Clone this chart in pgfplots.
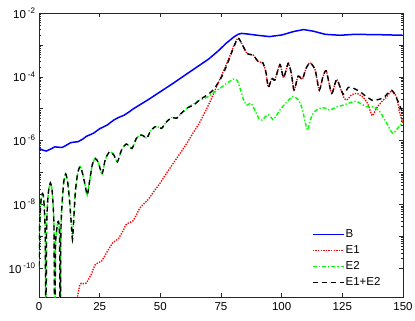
\documentclass[border=0pt]{standalone}
\usepackage{fontspec}
\setmainfont{Liberation Sans}
\usepackage{pgfplots}
\pgfplotsset{compat=1.18}
\newcommand{\tp}[1]{10\,\raisebox{0.8ex}{\fontsize{8}{9}\selectfont -#1}}
\begin{document}
\fontsize{11.5}{13}\selectfont
\begin{tikzpicture}
\begin{axis}[name=ax,
  scale only axis, width=364pt, height=284pt,
  xmin=0, xmax=150, ymode=log, ymin=1.23e-11, ymax=1e-2,
  xtick={0,25,50,75,100,125,150},
  ytick={1e-10,1e-9,1e-8,1e-7,1e-6,1e-5,1e-4,1e-3,1e-2},
  yticklabels={\tp{10},{},\tp{8},{},\tp{6},{},\tp{4},{},\tp{2}},
  /pgf/number format/assume math mode=true,
  tick align=inside, major tick length=4.5pt, minor tick length=2.5pt,
  axis line style={black!85, line width=0.5pt},
  every tick/.style={black!85, line width=0.4pt},
  tick label style={font=\fontsize{11.5}{13}\selectfont},
  xticklabel style={yshift=-1.5pt},
  clip=true,
  legend cell align=left,
  legend style={draw=none, fill=none, at={(0.747,0.025)}, anchor=south west, font=\fontsize{11.5}{13}\selectfont, row sep=3.5pt, inner sep=1pt,
    nodes={inner sep=1pt, text height=8.5pt, text depth=2pt}},
  legend image code/.code={\draw[#1] (0pt,0pt) -- (31pt,0pt);},
]
\addplot[blue, line width=1.5pt] coordinates {
(0,5.62e-7)(1.5,5.01e-7)(3,4.68e-7)(4.8,5.37e-7)(6.5,6.31e-7)(8,6.17e-7)(9.5,6.03e-7)(11,6.92e-7)(13,8.51e-7)(14.5,8.91e-7)(16,9.12e-7)(18,1.10e-6)(19.5,1.35e-6)(21,1.51e-6)(22.5,1.70e-6)(25,2.34e-6)(28,3.02e-6)(31,4.47e-6)(33,5.37e-6)(35,6.17e-6)(37,7.76e-6)(39,1.00e-5)(42,1.38e-5)(45,1.91e-5)(50,3.39e-5)(55,6.03e-5)(60,1.10e-4)(65,2.00e-4)(70,3.63e-4)(74,6.61e-4)(77,1.10e-3)(80,1.70e-3)(82,2.14e-3)(83.5,2.29e-3)(86,2.19e-3)(90,2.00e-3)(95,1.82e-3)(100,2.04e-3)(105,2.63e-3)(109,3.02e-3)(113,2.69e-3)(118,2.14e-3)(124,2.00e-3)(130,2.14e-3)(140,2.09e-3)(150,2.00e-3)
};
\addlegendentry{B}
\addplot[red, line width=1.4pt, dash pattern=on 1.3pt off 1.3pt, smooth, tension=0.4] coordinates {
(15,5.012e-12)(16.8,2.951e-11)(18,3.236e-11)(19.5,3.388e-11)(21.5,6.310e-11)(23.3,1.318e-10)(25.7,1.622e-10)(28,3.162e-10)(30.5,6.310e-10)(32.6,8.128e-10)(34.5,1.413e-9)(36.1,2.399e-9)(38.8,3.020e-9)(41.6,7.586e-9)(45,1.413e-8)(47.5,2.630e-8)(49.9,4.571e-8)(52.6,9.550e-8)(55.3,1.905e-7)(58,3.802e-7)(60.9,8.128e-7)(63.6,1.778e-6)(66.3,3.802e-6)(70.5,1.660e-5)(73.9,6.607e-5)(76.6,1.905e-4)(78.4,3.981e-4)(80.3,9.550e-4)(82,1.622e-3)(83.5,1.122e-3)(85.6,5.495e-4)(87,5.012e-4)(88.3,4.786e-4)(90.4,2.951e-4)(92.2,2.754e-4)(93.5,1.413e-4)(94.5,4.677e-5)(95.9,8.913e-5)(97.2,7.943e-5)(99.3,2.399e-4)(100.8,9.333e-5)(102.7,2.630e-4)(104,1.259e-4)(105.1,3.802e-5)(106.8,1.047e-4)(108.5,8.318e-5)(110,1.778e-4)(111.7,2.754e-4)(113.8,1.622e-4)(115.5,3.802e-5)(117,1e-4)(118.4,1.514e-4)(120.6,3.020e-5)(122.7,8.128e-5)(125.4,2.399e-5)(126.8,1.862e-5)(128.8,2.692e-5)(130.9,3.020e-5)(133.6,2.239e-5)(135.5,1.413e-5)(137.3,6.026e-6)(139.1,1.047e-5)(141.5,1.738e-5)(143.3,2.344e-5)(145.5,3.715e-5)(147.4,2.188e-5)(148.7,7.079e-6)(150,3.548e-6)
};
\addlegendentry{E1}
\addplot[green, line width=1.4pt, dash pattern=on 4pt off 2pt on 1.3pt off 2pt, smooth, tension=0.4] coordinates {
(0,1.096e-10)(0.3,2.512e-9)(0.7,1e-8)(1.1,1.905e-8)(1.5,2.188e-8)(1.9,1.585e-8)(2.3,5.012e-9)(2.6,6.310e-10)(2.85,1e-13)(3.1,1e-9)(3.5,1e-8)(4.0,2.818e-8)(4.7,4.677e-8)(5.3,3.162e-8)(5.8,1e-8)(6.2,1.259e-9)(6.5,1e-13)(6.8,3.981e-10)(7.3,1.585e-9)(7.8,2.818e-9)(8.2,2.512e-9)(8.5,6.310e-10)(8.75,1e-13)(9.0,1e-9)(9.5,1e-8)(10.2,5.012e-8)(11,8.913e-8)(11.8,5.012e-8)(12.6,1.259e-8)(13.3,2.512e-9)(13.8,7.943e-10)(14.3,3.162e-9)(15,2.512e-8)(16,1e-7)(17,1.514e-7)(18,8.913e-8)(19,3.981e-8)(19.9,1.950e-8)(20.8,5.012e-8)(22,1.778e-7)(23.2,2.754e-7)(24.5,1.995e-7)(26,8.913e-8)(27.3,2.512e-7)(29.1,4.467e-7)(30.8,3.548e-7)(32.3,2.138e-7)(34,5.012e-7)(36,7.762e-7)(38.3,5.623e-7)(40,1.122e-6)(41.5,1.479e-6)(43,1.413e-6)(44.4,1.175e-6)(46,1.995e-6)(47.8,2.692e-6)(49.2,2.630e-6)(50.5,2.399e-6)(52.5,3.802e-6)(54.7,5.248e-6)(56.7,5.012e-6)(59,7.586e-6)(61.5,1.096e-5)(64,1.445e-5)(66.3,1.862e-5)(69.1,2.239e-5)(72,3.162e-5)(74.6,4.365e-5)(77.5,6.310e-5)(80.3,8.511e-5)(81.7,7.586e-5)(82.8,4.467e-5)(84.2,1.995e-5)(85.6,1.288e-5)(87.3,1.479e-5)(88.9,9.120e-6)(90.5,5.012e-6)(91.8,4.365e-6)(93.3,5.623e-6)(94.5,6.457e-6)(95.5,5.495e-6)(96.5,4.467e-6)(98,6.310e-6)(99.3,9.120e-6)(102,1.585e-5)(104.5,2.399e-5)(106.6,1.995e-5)(108,1.259e-5)(108.9,7.079e-6)(110.6,2.089e-6)(111.8,4.467e-6)(113,7.079e-6)(114.8,9.550e-6)(116.8,1.072e-5)(118.5,1e-5)(119.9,8.913e-6)(122.5,1.122e-5)(125.4,1.288e-5)(128,1.514e-5)(130.5,1.698e-5)(132.8,1.413e-5)(135,1.148e-5)(138,1.122e-5)(140.5,7.943e-6)(143.3,3.467e-6)(145.7,1.698e-6)(148,2.512e-6)(150,3.890e-6)
};
\addlegendentry{E2}
\addplot[black, line width=1.4pt, dash pattern=on 5pt off 4pt, smooth, tension=0.4] coordinates {
(0,1.096e-10)(0.3,2.512e-9)(0.7,1e-8)(1.1,1.905e-8)(1.5,2.188e-8)(1.9,1.585e-8)(2.3,5.012e-9)(2.6,6.310e-10)(2.85,1e-13)(3.1,1e-9)(3.5,1e-8)(4.0,2.818e-8)(4.7,4.677e-8)(5.3,3.162e-8)(5.8,1e-8)(6.2,1.259e-9)(6.5,1e-13)(6.8,3.981e-10)(7.3,1.585e-9)(7.8,2.818e-9)(8.2,2.512e-9)(8.5,6.310e-10)(8.75,1e-13)(9.0,1e-9)(9.5,1e-8)(10.2,5.012e-8)(11,8.913e-8)(11.8,5.012e-8)(12.6,1.259e-8)(13.3,2.512e-9)(13.8,7.943e-10)(14.3,3.162e-9)(15,2.512e-8)(16,1e-7)(17,1.514e-7)(18,8.913e-8)(19,3.981e-8)(19.9,1.950e-8)(20.8,5.012e-8)(22,1.778e-7)(23.2,2.754e-7)(24.5,1.995e-7)(26,8.913e-8)(27.3,2.512e-7)(29.1,4.467e-7)(30.8,3.548e-7)(32.3,2.138e-7)(34,5.012e-7)(36,7.762e-7)(38.3,5.623e-7)(40,1.122e-6)(41.5,1.479e-6)(43,1.413e-6)(44.4,1.175e-6)(46,1.995e-6)(47.8,2.692e-6)(49.2,2.630e-6)(50.5,2.399e-6)(52.5,3.802e-6)(54.7,5.248e-6)(56.7,5.012e-6)(59,7.586e-6)(61.5,1.096e-5)(63.6,1.259e-5)(66.3,1.905e-5)(69.1,2.630e-5)(72,3.981e-5)(75.3,1e-4)(77.6,2.512e-4)(80,7.586e-4)(82,1.622e-3)(83.5,1.122e-3)(85.6,5.495e-4)(87,5.012e-4)(88.3,4.786e-4)(90.4,2.951e-4)(92.2,2.754e-4)(93.5,1.413e-4)(94.5,4.677e-5)(95.9,8.913e-5)(97.2,7.943e-5)(99.3,2.399e-4)(100.8,9.333e-5)(102.7,2.630e-4)(104,1.259e-4)(105.1,3.802e-5)(106.8,1.047e-4)(108.5,8.318e-5)(110,1.778e-4)(111.7,2.754e-4)(113.8,1.622e-4)(115.5,3.802e-5)(117,1e-4)(118.4,1.514e-4)(120.6,3.020e-5)(122.7,8.128e-5)(125.4,2.818e-5)(127.5,4.677e-5)(129.5,4.365e-5)(132.3,3.388e-5)(135,2.344e-5)(137.7,1.778e-5)(139.5,1.905e-5)(141.9,2.188e-5)(145.3,3.715e-5)(147.4,2.089e-5)(149.4,9.120e-6)(150,7.586e-6)
};
\addlegendentry{E1+E2}
\end{axis}
\pgfresetboundingbox
\path[use as bounding box] ([shift={(-39pt,-24pt)}]ax.south west) rectangle ([shift={(12pt,13pt)}]ax.north east);
\end{tikzpicture}
\end{document}
